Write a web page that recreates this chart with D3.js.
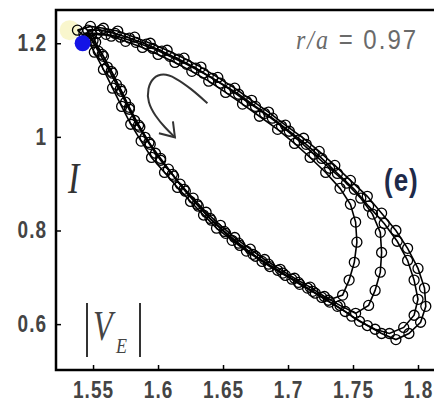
<!DOCTYPE html>
<html>
<head>
<meta charset="utf-8">
<script src="https://cdn.jsdelivr.net/npm/d3@7"></script>
<style>
  body { margin: 0; background: #fff; }
  svg { display: block; }
</style>
</head>
<body>
<svg></svg>
<script>
var width = 434;
var height = 402;

// tick values
var xTicks = [1.55, 1.6, 1.65, 1.7, 1.75, 1.8];
var yTicks = [0.6, 0.8, 1, 1.2];

// trajectory passes, [I, |V_E|]
var loopA = [
  [1.538, 1.228], [1.548, 1.236], [1.558, 1.232], [1.569, 1.226], [1.582, 1.213], [1.594, 1.200],
  [1.607, 1.185], [1.620, 1.168], [1.633, 1.149], [1.646, 1.127], [1.659, 1.104], [1.672, 1.078],
  [1.685, 1.053], [1.698, 1.025], [1.712, 0.997], [1.724, 0.969], [1.736, 0.939], [1.748, 0.907],
  [1.761, 0.873], [1.772, 0.837], [1.783, 0.800], [1.792, 0.762], [1.800, 0.719], [1.805, 0.677],
  [1.806, 0.638], [1.802, 0.604], [1.793, 0.580], [1.783, 0.567],
  [1.772, 0.580], [1.761, 0.597], [1.749, 0.617], [1.738, 0.638], [1.726, 0.657], [1.715, 0.677],
  [1.703, 0.696], [1.692, 0.715], [1.680, 0.734], [1.668, 0.756], [1.657, 0.779], [1.645, 0.805],
  [1.635, 0.833], [1.625, 0.862], [1.615, 0.892], [1.605, 0.924], [1.595, 0.956], [1.587, 0.991],
  [1.579, 1.027], [1.572, 1.065], [1.565, 1.104], [1.558, 1.144], [1.551, 1.181], [1.545, 1.211]
];
var loopB = [
  [1.543, 1.221], [1.553, 1.221], [1.564, 1.215], [1.575, 1.204], [1.588, 1.191], [1.600, 1.176],
  [1.613, 1.159], [1.626, 1.140], [1.639, 1.119], [1.652, 1.095], [1.665, 1.070], [1.678, 1.044],
  [1.692, 1.016], [1.705, 0.986], [1.717, 0.956], [1.729, 0.924], [1.740, 0.890], [1.748, 0.856],
  [1.752, 0.818], [1.753, 0.775], [1.751, 0.732], [1.747, 0.694], [1.742, 0.662],
  [1.731, 0.651], [1.719, 0.670], [1.708, 0.689], [1.696, 0.709], [1.685, 0.728], [1.673, 0.749],
  [1.662, 0.773], [1.651, 0.798], [1.640, 0.826], [1.630, 0.856], [1.620, 0.888], [1.611, 0.920],
  [1.602, 0.954], [1.593, 0.988], [1.585, 1.025], [1.578, 1.063], [1.571, 1.102], [1.564, 1.140],
  [1.557, 1.176], [1.550, 1.206]
];
var loopC = [
  [1.546, 1.228], [1.556, 1.228], [1.567, 1.221], [1.578, 1.211], [1.591, 1.198], [1.603, 1.183],
  [1.616, 1.166], [1.629, 1.147], [1.642, 1.125], [1.655, 1.102], [1.668, 1.076], [1.682, 1.050],
  [1.695, 1.023], [1.708, 0.993], [1.720, 0.963], [1.732, 0.933], [1.745, 0.901], [1.756, 0.869],
  [1.765, 0.835], [1.771, 0.796], [1.772, 0.753], [1.771, 0.711], [1.767, 0.672], [1.762, 0.640],
  [1.752, 0.623], [1.740, 0.640], [1.728, 0.659], [1.717, 0.679], [1.705, 0.698], [1.694, 0.717],
  [1.682, 0.738], [1.671, 0.760], [1.659, 0.785], [1.648, 0.811], [1.637, 0.839], [1.627, 0.869],
  [1.617, 0.899], [1.608, 0.931], [1.598, 0.965], [1.590, 0.999], [1.582, 1.035], [1.575, 1.074],
  [1.568, 1.112], [1.561, 1.149], [1.554, 1.183], [1.548, 1.211]
];
var loopD = [
  [1.549, 1.219], [1.560, 1.219], [1.571, 1.213], [1.583, 1.202], [1.596, 1.189], [1.609, 1.172],
  [1.622, 1.155], [1.635, 1.136], [1.648, 1.115], [1.662, 1.091], [1.675, 1.065], [1.688, 1.040],
  [1.701, 1.012], [1.714, 0.984], [1.726, 0.954], [1.738, 0.922], [1.751, 0.888], [1.762, 0.852],
  [1.774, 0.815], [1.784, 0.777], [1.792, 0.736], [1.797, 0.694], [1.800, 0.653], [1.797, 0.619],
  [1.789, 0.593], [1.778, 0.580],
  [1.767, 0.589], [1.755, 0.606], [1.744, 0.627], [1.732, 0.647], [1.721, 0.666], [1.709, 0.685],
  [1.698, 0.704], [1.686, 0.723], [1.675, 0.745], [1.663, 0.768], [1.652, 0.794], [1.641, 0.822],
  [1.631, 0.852], [1.621, 0.884], [1.612, 0.916], [1.602, 0.950], [1.594, 0.984], [1.586, 1.021],
  [1.578, 1.059], [1.572, 1.097], [1.565, 1.136], [1.558, 1.172], [1.552, 1.202]
];
var loops = [loopA, loopB, loopC, loopD];

var startPoint = [1.542, 1.200];
var glowPoint = [1.532, 1.228];

// curved arrow showing the direction of travel
var arrowPath = [
  [1.638, 1.072], [1.625, 1.104], [1.613, 1.127], [1.604, 1.136], [1.596, 1.127],
  [1.592, 1.104], [1.592, 1.074], [1.598, 1.044], [1.605, 1.021], [1.613, 0.999]
];

var x = d3.scaleLinear().domain([1.5215, 1.815]).range([56, 437.5]);
var y = d3.scaleLinear().domain([0.502, 1.271]).range([370, 10]);

var svg = d3.select("svg")
  .attr("width", width)
  .attr("height", height)
  .style("font-family", "'Liberation Sans', Arial, sans-serif");

svg.append("rect").attr("width", width).attr("height", height).attr("fill", "#fff");

// plot frame (right side runs past the picture edge)
svg.append("rect")
  .attr("x", x.range()[0])
  .attr("y", y.range()[1])
  .attr("width", width + 20 - x.range()[0])
  .attr("height", y.range()[0] - y.range()[1])
  .attr("fill", "none")
  .attr("stroke", "#000")
  .attr("stroke-width", 2.5);

var xAxis = svg.append("g")
  .attr("transform", "translate(0," + y.range()[0] + ")")
  .call(d3.axisBottom(x).tickValues(xTicks).tickFormat(d3.format(""))
    .tickSizeInner(-5).tickSizeOuter(0).tickPadding(0));
var yAxis = svg.append("g")
  .attr("transform", "translate(" + x.range()[0] + ",0)")
  .call(d3.axisLeft(y).tickValues(yTicks).tickFormat(d3.format(""))
    .tickSizeInner(-5).tickSizeOuter(0).tickPadding(9));

[xAxis, yAxis].forEach(function(ax) {
  ax.select(".domain").remove();
  ax.selectAll(".tick line").attr("stroke-width", 1.5);
  ax.selectAll("text")
    .attr("fill", "#444")
    .style("font-size", "19px")
    .style("font-weight", "bold")
    .style("letter-spacing", "1px");
});
xAxis.selectAll("text").attr("dy", 0).attr("y", 21.5).attr("transform", "scale(1,1.3)");
yAxis.selectAll("text").attr("transform", "scale(1,1.3)").attr("dy", "0.3em");

// start marker glow
svg.append("circle")
  .attr("cx", x(glowPoint[0])).attr("cy", y(glowPoint[1])).attr("r", 10)
  .attr("fill", "#f6f2b8").attr("opacity", 0.7);

var line = d3.line().x(d => x(d[0])).y(d => y(d[1]));

var plot = svg.append("g");
loops.forEach(function(pts) {
  plot.append("path")
    .datum(pts.concat([pts[0]]))
    .attr("d", line)
    .attr("fill", "none")
    .attr("stroke", "#000")
    .attr("stroke-width", 1.6);
  plot.selectAll(null)
    .data(pts)
    .enter()
    .append("circle")
      .attr("cx", d => x(d[0]))
      .attr("cy", d => y(d[1]))
      .attr("r", 5)
      .attr("fill", "none")
      .attr("stroke", "#000")
      .attr("stroke-width", 1.3);
});

svg.append("circle")
  .attr("cx", x(startPoint[0])).attr("cy", y(startPoint[1])).attr("r", 8)
  .attr("fill", "#1414e6");

// arrow
var arrowLine = d3.line().x(d => x(d[0])).y(d => y(d[1])).curve(d3.curveBasis);
svg.append("path")
  .datum(arrowPath)
  .attr("d", arrowLine)
  .attr("fill", "none")
  .attr("stroke", "#333")
  .attr("stroke-width", 2);
var tip = arrowPath[arrowPath.length - 1];
var tx = x(tip[0]), ty = y(tip[1]);
svg.append("path")
  .attr("d", "M" + (tx - 2) + "," + (ty - 16) + "L" + tx + "," + ty + "L" + (tx - 16) + "," + (ty - 4))
  .attr("fill", "none")
  .attr("stroke", "#333")
  .attr("stroke-width", 2);

// labels
svg.append("text")
  .attr("transform", "translate(296,49) scale(1,1.15)")
  .attr("fill", "#6a6a6a")
  .style("font-size", "24px")
  .style("letter-spacing", "2px")
  .html("<tspan font-style='italic' font-family='Liberation Serif, serif'>r/a</tspan> = 0.97");

svg.append("text")
  .attr("transform", "translate(384,191) scale(1,1.2)")
  .attr("fill", "#1e2a4a")
  .style("font-size", "26px")
  .style("font-weight", "bold")
  .style("letter-spacing", "1px")
  .text("(e)");

svg.append("text")
  .attr("transform", "translate(68,193) scale(1,1.3)")
  .attr("fill", "#333")
  .style("font-family", "'Liberation Serif', serif")
  .style("font-style", "italic")
  .style("font-size", "34px")
  .text("I");

var ve = svg.append("g").attr("fill", "#444");
ve.append("line").attr("x1", 87).attr("x2", 87).attr("y1", 303).attr("y2", 357).attr("stroke", "#333").attr("stroke-width", 2);
ve.append("line").attr("x1", 140).attr("x2", 140).attr("y1", 303).attr("y2", 357).attr("stroke", "#333").attr("stroke-width", 2);
ve.append("text")
  .attr("transform", "translate(93,340) scale(1,1.3)")
  .style("font-family", "'Liberation Serif', serif")
  .style("font-style", "italic")
  .style("font-size", "32px")
  .text("V");
ve.append("text")
  .attr("transform", "translate(116,353) scale(1,1.2)")
  .style("font-family", "'Liberation Serif', serif")
  .style("font-style", "italic")
  .style("font-size", "18px")
  .text("E");
</script>
</body>
</html>
